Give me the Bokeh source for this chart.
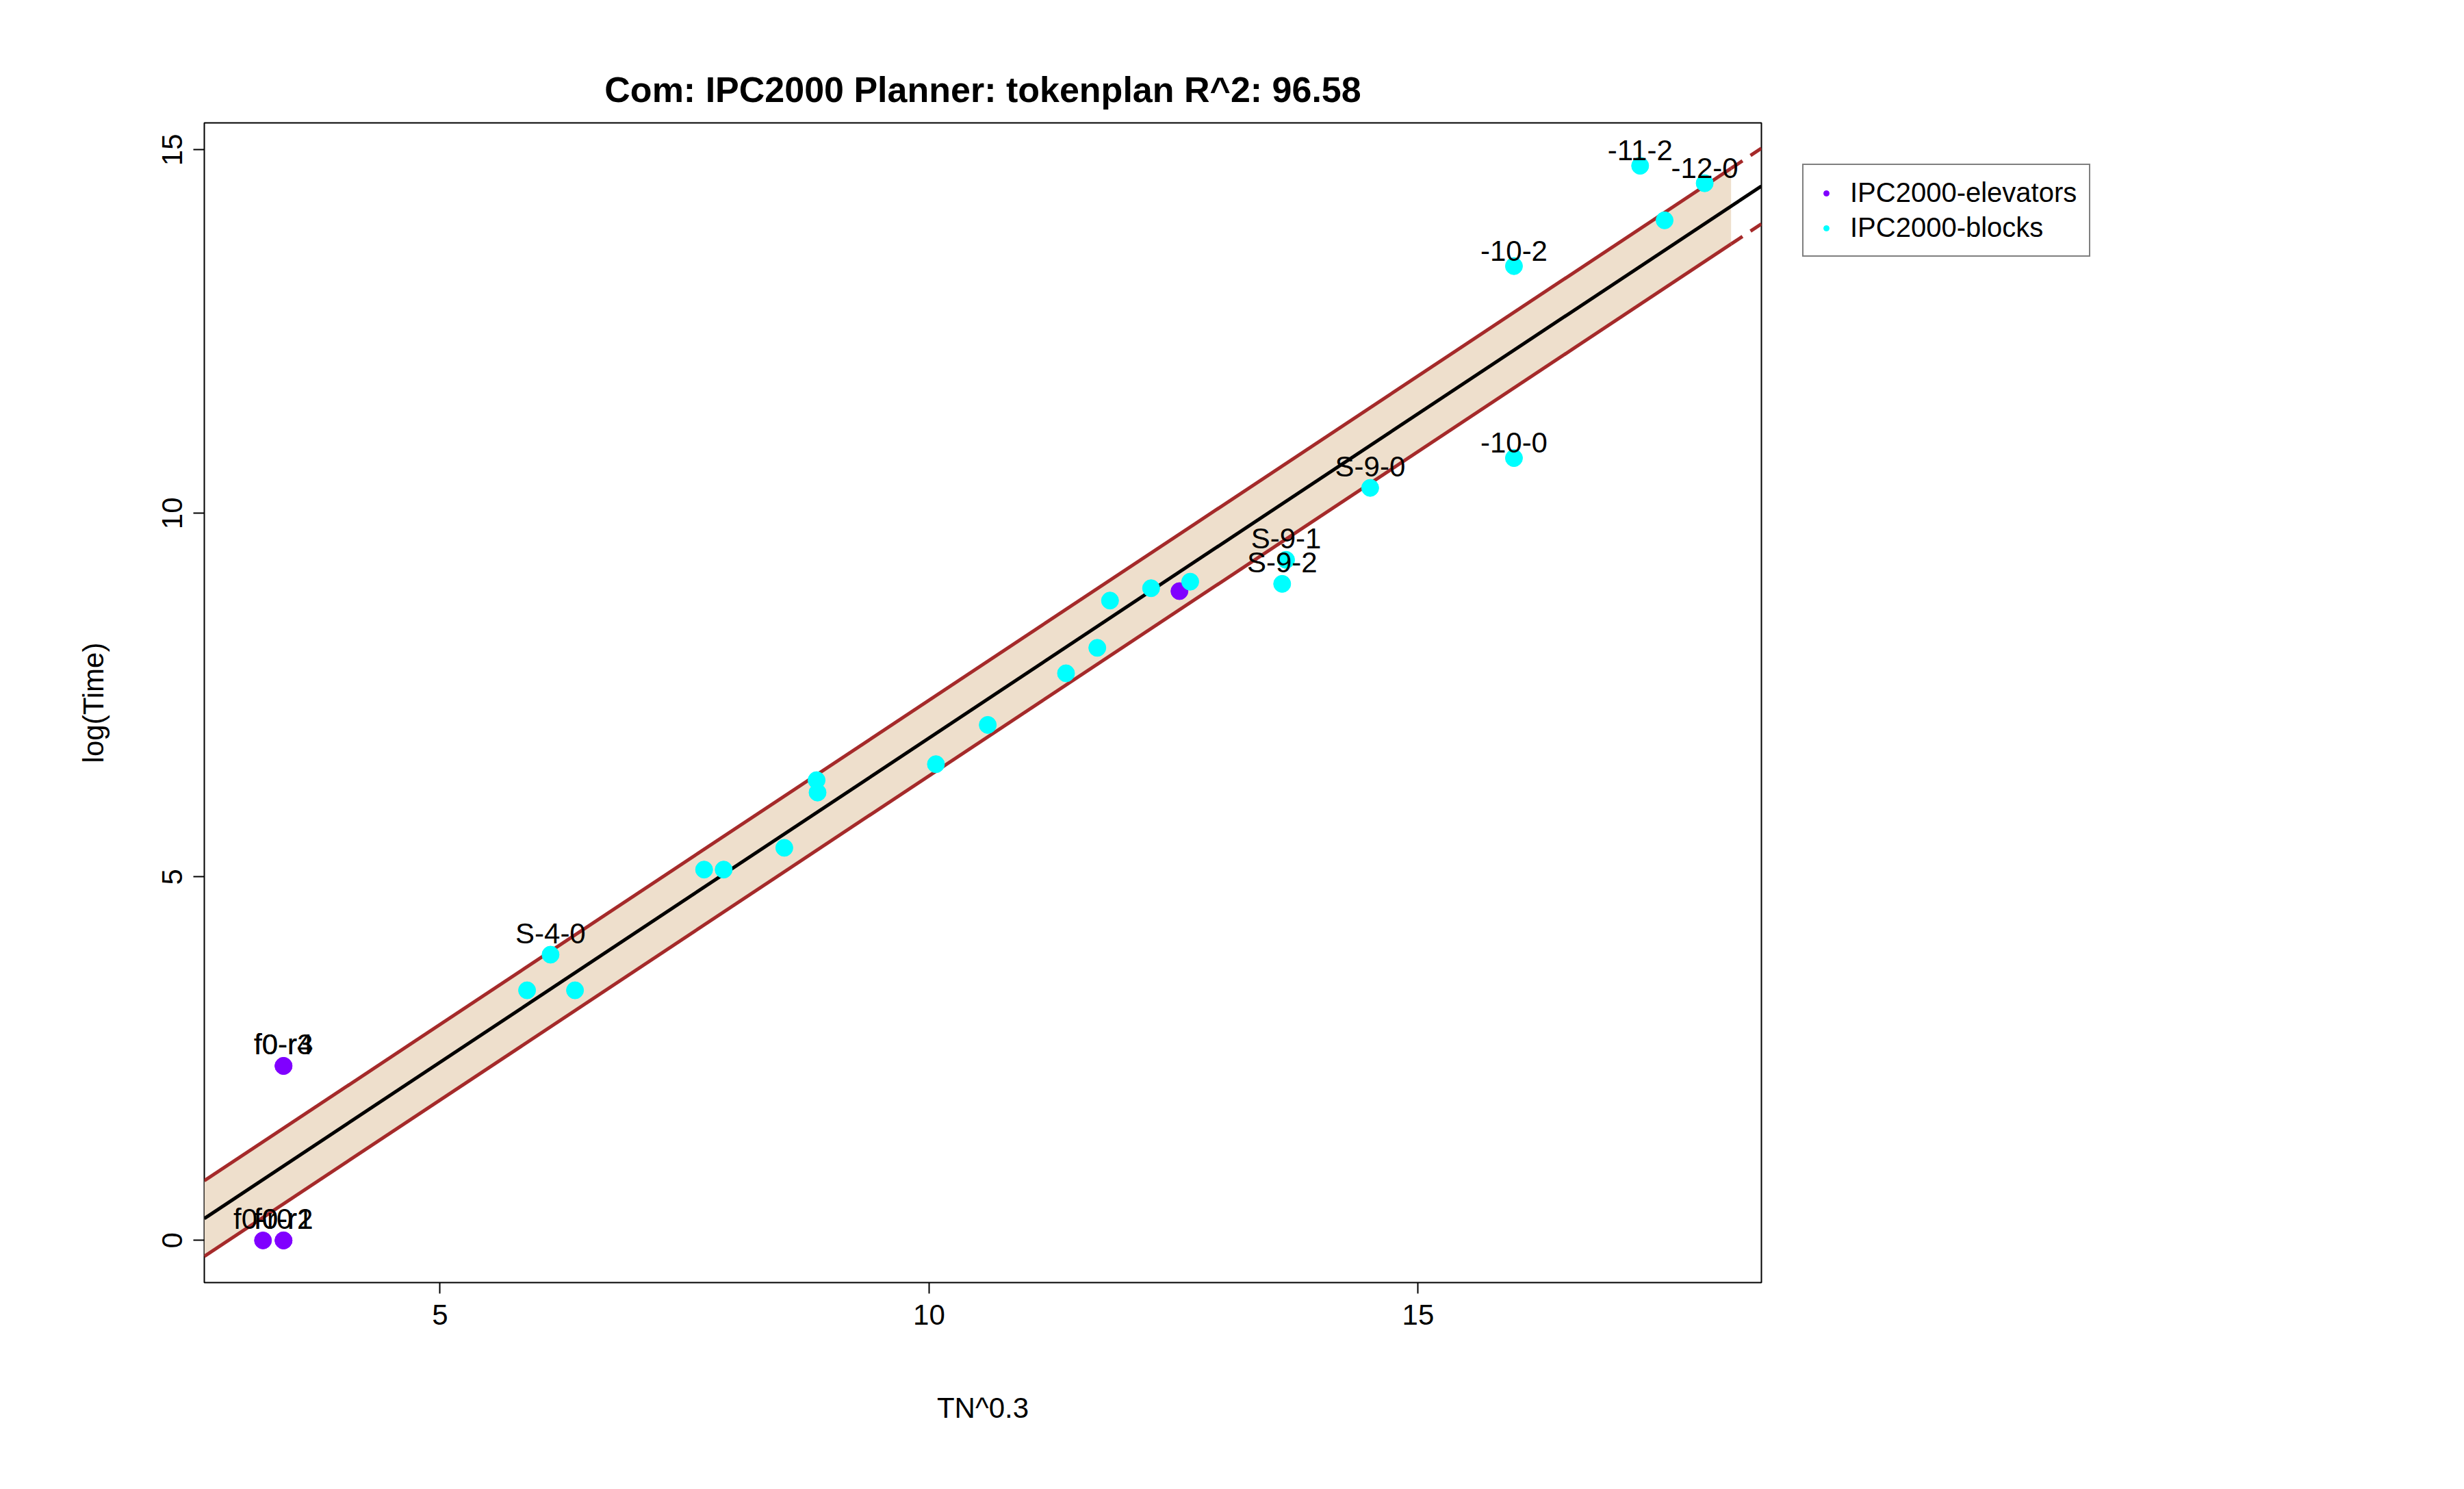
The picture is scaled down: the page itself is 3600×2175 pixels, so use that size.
from bokeh.plotting import figure
from bokeh.models import FixedTicker, Legend, LegendItem, Range1d, Title
from bokeh.embed import file_html
from bokeh.resources import INLINE

elev_x = [3.19, 3.40, 3.40, 3.40, 3.40, 12.56]
elev_y = [0.0, 0.0, 0.0, 2.40, 2.40, 8.93]
elev_lab = ["f0-r0", "f0-r1", "f0-r2", "f0-r3", "f0-r4", ""]

blk_x = [5.89, 6.13, 6.38, 7.70, 7.90, 8.52, 8.85, 8.86, 10.07, 10.60, 11.40, 11.72,
         11.85, 12.27, 12.67, 13.61, 13.65, 14.51, 15.98, 15.98, 17.27, 17.52, 17.93]
blk_y = [3.44, 3.93, 3.44, 5.10, 5.10, 5.40, 6.33, 6.16, 6.55, 7.09, 7.80, 8.15,
         8.80, 8.97, 9.06, 9.03, 9.36, 10.35, 10.76, 13.40, 14.78, 14.03, 14.54]
blk_lab = ["", "S-4-0", "", "", "", "", "", "", "", "", "", "",
           "", "", "", "S-9-2", "S-9-1", "S-9-0", "-10-0", "-10-2", "-11-2", "", "-12-0"]

fit_a = -2.01
fit_b = 0.892
band = 0.52
x_lo, x_hi, x_fit_end = 2.59, 18.51, 18.2

FONT = "Liberation Sans"
BROWN = "#A52A2A"

p = figure(width=3584, height=2160, output_backend="svg", toolbar_location=None,
           x_range=Range1d(x_lo, x_hi), y_range=Range1d(-0.58, 15.37),
           min_border_left=298, min_border_right=526, min_border_top=179, min_border_bottom=287)
p.add_layout(Title(text="Com: IPC2000 Planner: tokenplan R^2: 96.58", align="center",
                   text_font=FONT, text_font_size="52px", text_font_style="bold",
                   text_color="black", standoff=40), "above")
p.grid.visible = False
p.outline_line_color = "black"
p.outline_line_width = 2
p.background_fill_color = "white"
p.border_fill_color = "white"

for ax in (p.xaxis[0], p.yaxis[0]):
    ax.axis_line_color = None
    ax.major_tick_out = 16
    ax.major_tick_in = 0
    ax.major_tick_line_width = 2
    ax.major_tick_line_color = "black"
    ax.minor_tick_out = 0
    ax.minor_tick_in = 0
    ax.major_label_text_font = FONT
    ax.major_label_text_font_size = "42px"
    ax.major_label_text_color = "black"
    ax.axis_label_text_font = FONT
    ax.axis_label_text_font_size = "42px"
    ax.axis_label_text_color = "black"
    ax.axis_label_text_font_style = "normal"
p.xaxis.ticker = FixedTicker(ticks=[5, 10, 15])
p.yaxis.ticker = FixedTicker(ticks=[0, 5, 10, 15])
p.yaxis.major_label_orientation = "vertical"
p.xaxis.axis_label = "TN^0.3"
p.yaxis.axis_label = "log(Time)"
p.xaxis.major_label_standoff = 16
p.yaxis.major_label_standoff = 16
p.xaxis.axis_label_standoff = 95
p.yaxis.axis_label_standoff = 75

xs = [x_lo, x_fit_end]
fit = [fit_a + fit_b * x for x in xs]
p.varea(x=xs, y1=[v - band for v in fit], y2=[v + band for v in fit], fill_color="#EEDFCC")
for s in (band, -band):
    p.line(xs, [v + s for v in fit], line_color=BROWN, line_width=5)
    p.line([x_fit_end, x_hi], [fit_a + fit_b * x + s for x in (x_fit_end, x_hi)],
           line_color=BROWN, line_width=5, line_dash="20 14")
p.line([x_lo, x_hi], [fit_a + fit_b * x for x in (x_lo, x_hi)], line_color="black", line_width=5)

r_e = p.scatter(elev_x, elev_y, size=25, color="#8000FF")
r_b = p.scatter(blk_x, blk_y, size=25, color="#00FFFF")
for xx, yy, ll in ((elev_x, elev_y, elev_lab), (blk_x, blk_y, blk_lab)):
    p.text(xx, yy, text=ll, text_align="center", text_baseline="bottom", y_offset=-8,
           text_font_size="42px", text_color="black")

leg = Legend(items=[LegendItem(label="IPC2000-elevators", renderers=[r_e]),
                    LegendItem(label="IPC2000-blocks", renderers=[r_b])],
             location="top_left", label_text_font=FONT, label_text_font_size="40px",
             label_text_color="black", border_line_color="black", border_line_width=2,
             padding=18, spacing=6, glyph_width=30, label_standoff=20, margin=60)
p.add_layout(leg, "right")

open("out.html", "w").write(file_html(p, INLINE))
